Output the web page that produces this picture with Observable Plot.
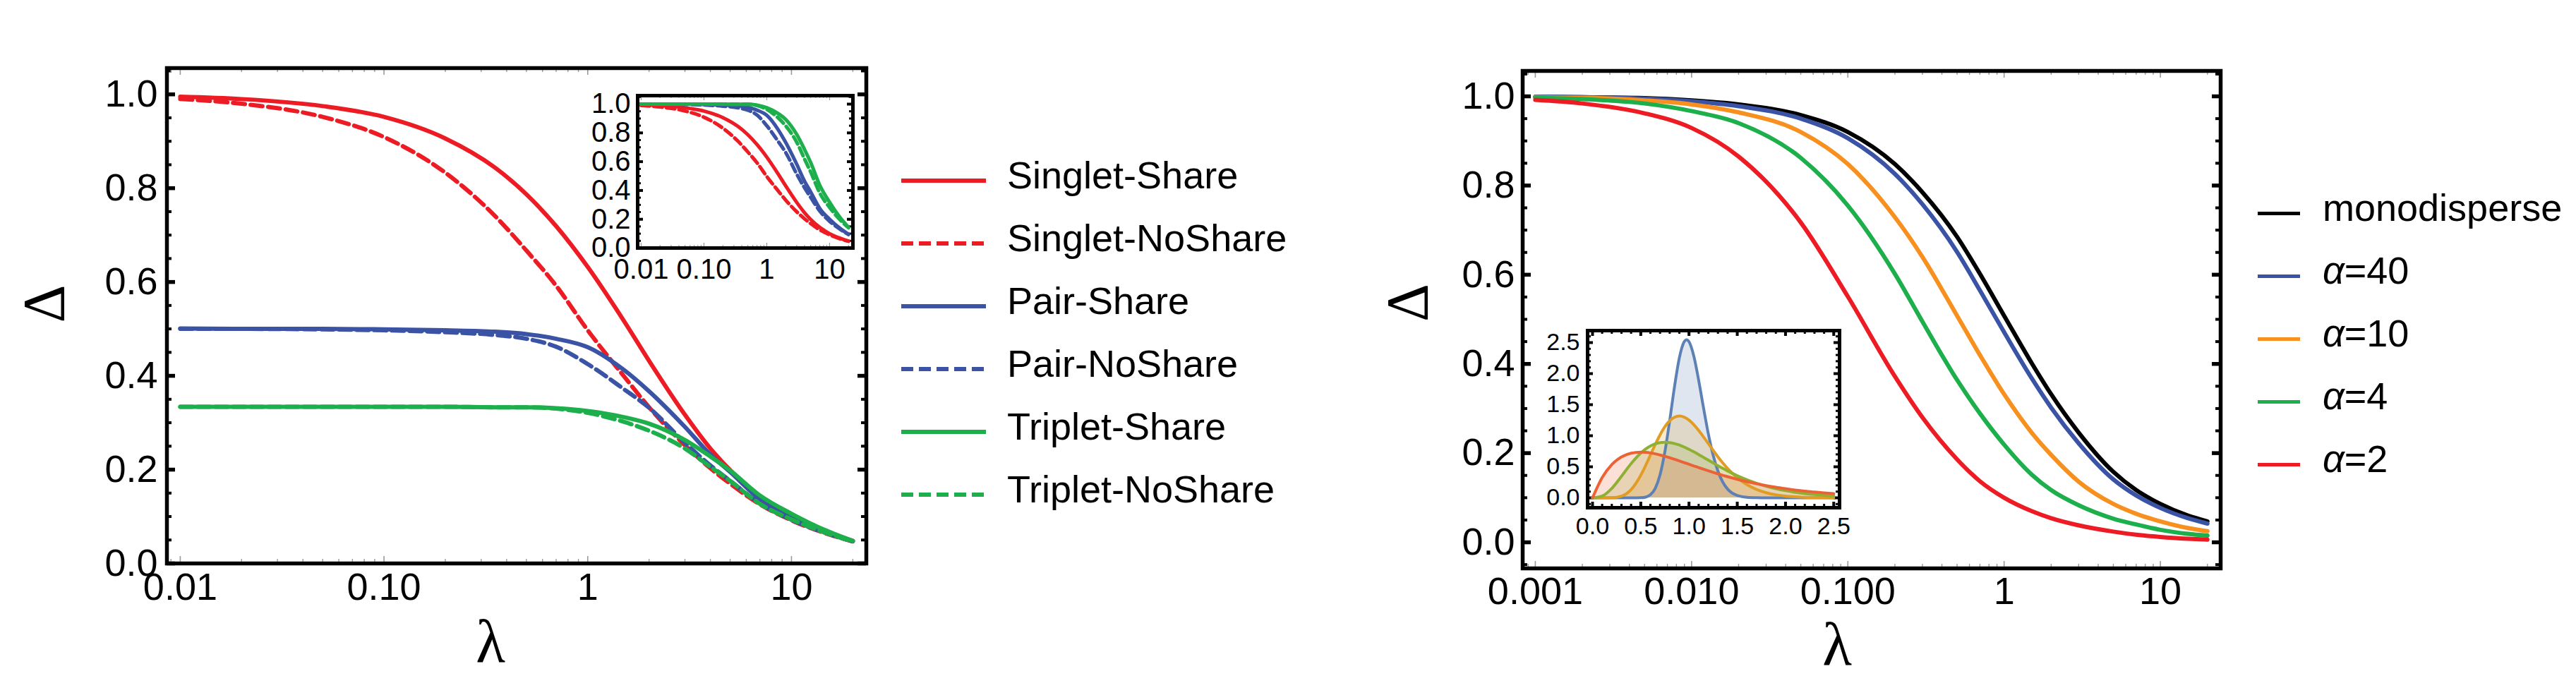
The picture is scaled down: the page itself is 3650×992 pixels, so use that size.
<!DOCTYPE html>
<html>
<head>
<meta charset="utf-8">
<script src="https://cdn.jsdelivr.net/npm/d3@7"></script>
<script src="https://cdn.jsdelivr.net/npm/@observablehq/plot@0.6"></script>
<style>
  html, body { margin: 0; padding: 0; background: #fff; }
  #root { position: relative; width: 3650px; height: 992px; overflow: hidden; background: #fff;
          font-family: "Liberation Sans", Arial, sans-serif; }
  .panel { position: absolute; }
  .panel svg { max-width: none; display: block; }
  .legend { position: absolute; font-size: 54px; color: #000; }
  .legend .row { position: absolute; left: 0; height: 88px; display: flex; align-items: center; white-space: nowrap; }
  .legend .txt { position: relative; top: -8px; line-height: 1; }
</style>
</head>
<body>
<div id="root"></div>
<script>
// ---------------- DATA ----------------
// Left panel: Delta vs lambda
const lambdaA = [0.01, 0.02, 0.05, 0.1, 0.2, 0.35, 0.5, 0.7, 1, 1.5, 2, 3, 4, 5, 7, 10, 15, 20];
const singletShare   = [0.995, 0.990, 0.975, 0.952, 0.906, 0.844, 0.787, 0.719, 0.632, 0.518, 0.432, 0.317, 0.245, 0.199, 0.143, 0.100, 0.067, 0.048];
const singletNoShare = [0.990, 0.980, 0.952, 0.909, 0.833, 0.741, 0.667, 0.592, 0.497, 0.400, 0.333, 0.252, 0.203, 0.170, 0.126, 0.092, 0.063, 0.047];
const pairShare      = [0.501, 0.500, 0.500, 0.499, 0.497, 0.494, 0.489, 0.479, 0.461, 0.413, 0.367, 0.291, 0.232, 0.195, 0.137, 0.100, 0.067, 0.048];
const pairNoShare    = [0.500, 0.500, 0.499, 0.497, 0.493, 0.487, 0.479, 0.462, 0.425, 0.372, 0.332, 0.257, 0.209, 0.176, 0.128, 0.093, 0.064, 0.047];
const tripletShare   = [0.334, 0.334, 0.334, 0.334, 0.334, 0.333, 0.333, 0.331, 0.325, 0.312, 0.298, 0.263, 0.228, 0.198, 0.145, 0.106, 0.069, 0.048];
const tripletNoShare = [0.334, 0.334, 0.334, 0.334, 0.334, 0.333, 0.333, 0.330, 0.321, 0.302, 0.283, 0.245, 0.206, 0.176, 0.127, 0.094, 0.064, 0.047];

// Left inset: normalised curves
const insetSingletShare   = [0.995, 0.990, 0.975, 0.952, 0.906, 0.844, 0.787, 0.719, 0.632, 0.518, 0.432, 0.317, 0.245, 0.199, 0.143, 0.100, 0.067, 0.048];
const insetSingletNoShare = [0.990, 0.980, 0.952, 0.909, 0.833, 0.741, 0.667, 0.592, 0.497, 0.400, 0.333, 0.252, 0.203, 0.170, 0.126, 0.092, 0.063, 0.047];
const insetPairShare      = [1.000, 1.000, 1.000, 0.998, 0.994, 0.988, 0.978, 0.958, 0.922, 0.826, 0.734, 0.582, 0.464, 0.390, 0.274, 0.200, 0.134, 0.096];
const insetPairNoShare    = [1.000, 1.000, 0.998, 0.994, 0.986, 0.974, 0.958, 0.924, 0.850, 0.744, 0.664, 0.514, 0.418, 0.352, 0.256, 0.186, 0.128, 0.094];
const insetTripletShare   = [1.000, 1.000, 1.000, 1.000, 1.000, 0.999, 0.999, 0.993, 0.975, 0.936, 0.894, 0.789, 0.684, 0.594, 0.435, 0.318, 0.207, 0.144];
const insetTripletNoShare = [1.000, 1.000, 1.000, 1.000, 1.000, 0.999, 0.999, 0.990, 0.963, 0.906, 0.849, 0.735, 0.618, 0.528, 0.381, 0.282, 0.192, 0.141];

// Right panel: Delta vs lambda for size distributions
const lambdaB = [0.001, 0.002, 0.005, 0.01, 0.02, 0.05, 0.1, 0.2, 0.3, 0.5, 0.7, 1, 1.5, 2, 3, 5, 7, 10, 15, 20];
const monodisperse = [0.999, 0.998, 0.996, 0.991, 0.982, 0.958, 0.920, 0.848, 0.785, 0.685, 0.602, 0.508, 0.402, 0.332, 0.246, 0.158, 0.117, 0.086, 0.060, 0.047];
const alpha40      = [0.999, 0.998, 0.995, 0.989, 0.978, 0.950, 0.906, 0.826, 0.758, 0.651, 0.565, 0.471, 0.368, 0.302, 0.222, 0.141, 0.105, 0.077, 0.054, 0.042];
const alpha10      = [0.998, 0.997, 0.991, 0.982, 0.964, 0.920, 0.848, 0.729, 0.640, 0.508, 0.420, 0.332, 0.246, 0.196, 0.136, 0.086, 0.064, 0.047, 0.032, 0.025];
const alpha4       = [0.997, 0.994, 0.984, 0.967, 0.940, 0.862, 0.755, 0.602, 0.495, 0.364, 0.289, 0.219, 0.152, 0.117, 0.083, 0.053, 0.040, 0.028, 0.019, 0.015];
const alpha2       = [0.992, 0.984, 0.962, 0.929, 0.865, 0.717, 0.551, 0.372, 0.280, 0.186, 0.137, 0.100, 0.070, 0.054, 0.038, 0.024, 0.017, 0.012, 0.008, 0.006];

// Right inset: size distributions
const distX   = [0, 0.1, 0.2, 0.3, 0.4, 0.5, 0.55, 0.6, 0.65, 0.7, 0.75, 0.8, 0.85, 0.9, 0.95, 0.975, 1.0, 1.05, 1.1, 1.15, 1.2, 1.25, 1.3, 1.35, 1.4, 1.5, 1.6, 1.7, 1.8, 1.9, 2.0, 2.1, 2.2, 2.3, 2.4, 2.5];
const distA40 = [0, 0, 0, 0, 0, 0.002, 0.012, 0.050, 0.153, 0.372, 0.742, 1.245, 1.793, 2.254, 2.513, 2.546, 2.514, 2.281, 1.894, 1.452, 1.033, 0.687, 0.429, 0.253, 0.141, 0.038, 0.009, 0.002, 0, 0, 0, 0, 0, 0, 0, 0];
const distA10 = [0, 0, 0.002, 0.027, 0.132, 0.363, 0.519, 0.689, 0.858, 1.014, 1.145, 1.241, 1.298, 1.318, 1.300, 1.279, 1.251, 1.177, 1.085, 0.982, 0.874, 0.765, 0.660, 0.563, 0.473, 0.324, 0.213, 0.135, 0.083, 0.050, 0.029, 0.017, 0.009, 0.005, 0.003, 0.002];
const distA4  = [0, 0.029, 0.153, 0.347, 0.551, 0.722, 0.786, 0.836, 0.871, 0.890, 0.896, 0.890, 0.874, 0.850, 0.818, 0.800, 0.781, 0.741, 0.697, 0.652, 0.607, 0.562, 0.517, 0.474, 0.433, 0.357, 0.290, 0.234, 0.186, 0.147, 0.115, 0.089, 0.069, 0.053, 0.040, 0.030];
const distA2  = [0, 0.327, 0.536, 0.659, 0.719, 0.736, 0.732, 0.723, 0.709, 0.690, 0.669, 0.646, 0.621, 0.595, 0.568, 0.555, 0.541, 0.514, 0.488, 0.461, 0.435, 0.410, 0.386, 0.363, 0.341, 0.299, 0.261, 0.227, 0.197, 0.170, 0.147, 0.126, 0.108, 0.093, 0.079, 0.067];

// Tick values and labels
const xTicksA = [0.01, 0.1, 1, 10];
const xTickLabelsA = ["0.01", "0.10", "1", "10"];
const xTicksB = [0.001, 0.01, 0.1, 1, 10];
const xTickLabelsB = ["0.001", "0.010", "0.100", "1", "10"];
const yTicksMain = [0, 0.2, 0.4, 0.6, 0.8, 1.0];
const yTickLabelsMain = ["0.0", "0.2", "0.4", "0.6", "0.8", "1.0"];
const distTicks = [0, 0.5, 1, 1.5, 2, 2.5];
const distTickLabels = ["0.0", "0.5", "1.0", "1.5", "2.0", "2.5"];

const legendA = ["Singlet-Share", "Singlet-NoShare", "Pair-Share", "Pair-NoShare", "Triplet-Share", "Triplet-NoShare"];
const legendB = ["monodisperse", "α=40", "α=10", "α=4", "α=2"];
const xLabel = "λ";
const yLabel = "Δ";

// ---------------- STYLE ----------------
const RED = "#ED1C24", BLUE = "#3A53A4", GREEN = "#1DAF4B", ORANGE = "#F7901E", BLACK = "#000000";
const D_BLUE = "#5E81B5", D_ORANGE = "#E19C24", D_GREEN = "#8FB032", D_RED = "#EB6235";
const SANS = '"Liberation Sans", Arial, sans-serif';
const SERIF = '"Liberation Serif", "DejaVu Serif", serif';

// ---------------- HELPERS ----------------
const pts = (xs, ys) => xs.map((x, i) => ({x, y: ys[i]}));
const labelFmt = (vals, labs) => { const m = new Map(vals.map((v, i) => [v, labs[i]])); return d => m.get(d); };
function logMinor(lo, hi, domain) {
  const out = [];
  for (let e = lo; e <= hi; e++) for (let m = 2; m <= 9; m++) out.push(+(m * Math.pow(10, e)).toPrecision(6));
  return out.filter(v => v >= domain[0] && v <= domain[1]);
}
function steps(a, b, s) { const out = []; for (let k = Math.round(a / s); k * s <= b + 1e-9; k++) out.push(+(k * s).toFixed(6)); return out; }

function line(xs, ys, color, w, dash) {
  return Plot.line(pts(xs, ys), {x: "x", y: "y", stroke: color, strokeWidth: w,
    strokeDasharray: dash || undefined, curve: "monotone-x", strokeLinejoin: "round"});
}

function panel(c) {
  const fw = c.width - c.ml - c.mr, fh = c.height - c.mt - c.mb;
  const t = c.tick;
  const marks = [
    Plot.frame({fill: "white", stroke: null}),
    // y ticks: left and right, pointing inward
    Plot.tickY(c.yMinor, {y: d => d, insetRight: fw - t.yMinLen, stroke: "black", strokeWidth: t.yMinW}),
    Plot.tickY(c.yMinor, {y: d => d, insetLeft: fw - t.yMinLen, stroke: "black", strokeWidth: t.yMinW}),
    Plot.tickY(c.yMajor, {y: d => d, insetRight: fw - t.yMajLen, stroke: "black", strokeWidth: t.yMajW}),
    Plot.tickY(c.yMajor, {y: d => d, insetLeft: fw - t.yMajLen, stroke: "black", strokeWidth: t.yMajW}),
    // x ticks: bottom and top, pointing inward
    Plot.tickX(c.xMinor, {x: d => d, insetTop: fh - t.xMinLen, stroke: t.xColor, strokeWidth: t.xMinW}),
    Plot.tickX(c.xMinor, {x: d => d, insetBottom: fh - t.xMinLen, stroke: t.xColor, strokeWidth: t.xMinW}),
    Plot.tickX(c.xMajor, {x: d => d, insetTop: fh - t.xMajLen, stroke: t.xColor, strokeWidth: t.xMajW}),
    Plot.tickX(c.xMajor, {x: d => d, insetBottom: fh - t.xMajLen, stroke: t.xColor, strokeWidth: t.xMajW}),
    ...c.marks,
    Plot.frame({stroke: "black", strokeWidth: t.frameW}),
    Plot.axisX(c.xMajor, {tickSize: 0, tickPadding: c.padX, fontSize: c.font, tickFormat: c.xFmt, label: null}),
    Plot.axisY(c.yMajor, {tickSize: 0, tickPadding: c.padY, fontSize: c.font, tickFormat: c.yFmt, label: null}),
    ...(c.extra || [])
  ];
  const svg = Plot.plot({
    width: c.width, height: c.height,
    marginLeft: c.ml, marginRight: c.mr, marginTop: c.mt, marginBottom: c.mb,
    x: {...c.x, label: null}, y: {...c.y, label: null},
    style: {fontFamily: SANS, background: "transparent", color: "black", maxWidth: "none", overflow: "visible"},
    marks
  });
  const div = document.createElement("div");
  div.className = "panel";
  div.style.left = c.left + "px"; div.style.top = c.top + "px";
  div.style.width = c.width + "px"; div.style.height = c.height + "px";
  div.appendChild(svg);
  document.getElementById("root").appendChild(div);
}

function axisTitles(dxL, dyL, dxD, dyD) {
  return [
    Plot.text([xLabel], {text: d => d, frameAnchor: "bottom", dx: dxL, dy: dyL, fontSize: 86, fontFamily: SERIF, lineAnchor: "middle", fill: "black"}),
    Plot.text([yLabel], {text: d => d, frameAnchor: "left", dx: dxD, dy: dyD, fontSize: 84, fontFamily: SERIF, rotate: -90, lineAnchor: "middle", fill: "black"})
  ];
}

const mainTick = {frameW: 5.5, yMajLen: 12, yMajW: 5.5, yMinLen: 7, yMinW: 4, xMajLen: 10, xMajW: 1.6, xMinLen: 6, xMinW: 1.4, xColor: "#9a9a9a"};

// ---------------- LEFT MAIN ----------------
const xDomA = [0.0086, 23.3];
panel({
  left: 0, top: 0, width: 1240, height: 992, ml: 236, mr: 13, mt: 96, mb: 194,
  x: {type: "log", domain: xDomA}, y: {domain: [0, 1.056]},
  xMajor: xTicksA, xMinor: logMinor(-3, 1, xDomA), xFmt: labelFmt(xTicksA, xTickLabelsA),
  yMajor: yTicksMain, yMinor: steps(0, 1.05, 0.05), yFmt: labelFmt(yTicksMain, yTickLabelsMain),
  font: 54, padX: 13, padY: 13, tick: mainTick,
  marks: [
    line(lambdaA, singletShare, RED, 6),
    line(lambdaA, singletNoShare, RED, 6, "17,8"),
    line(lambdaA, pairShare, BLUE, 6),
    line(lambdaA, pairNoShare, BLUE, 6, "17,8"),
    line(lambdaA, tripletShare, GREEN, 6),
    line(lambdaA, tripletNoShare, GREEN, 6, "17,8")
  ],
  extra: axisTitles(-37, 112, -172, 10)
});

// ---------------- LEFT INSET ----------------
const xDomAi = [0.0088, 23.5];
panel({
  left: 790, top: 100, width: 430, height: 320, ml: 113, mr: 12, mt: 35, mb: 69,
  x: {type: "log", domain: xDomAi}, y: {domain: [0, 1.059]},
  xMajor: xTicksA, xMinor: logMinor(-3, 1, xDomAi), xFmt: labelFmt(xTicksA, xTickLabelsA),
  yMajor: yTicksMain, yMinor: steps(0, 1.05, 0.05), yFmt: labelFmt(yTicksMain, yTickLabelsMain),
  font: 40, padX: 15, padY: 10,
  tick: {frameW: 5, yMajLen: 8, yMajW: 4, yMinLen: 5, yMinW: 3, xMajLen: 7, xMajW: 1.3, xMinLen: 4, xMinW: 1.1, xColor: "#9a9a9a"},
  marks: [
    line(lambdaA, insetSingletShare, RED, 5),
    line(lambdaA, insetSingletNoShare, RED, 5, "12,6"),
    line(lambdaA, insetPairShare, BLUE, 5),
    line(lambdaA, insetPairNoShare, BLUE, 5, "12,6"),
    line(lambdaA, insetTripletShare, GREEN, 5),
    line(lambdaA, insetTripletNoShare, GREEN, 5, "12,6")
  ]
});

// ---------------- RIGHT MAIN ----------------
const xDomB = [0.00083, 24.3];
panel({
  left: 1880, top: 0, width: 1300, height: 992, ml: 277, mr: 34, mt: 100, mb: 187,
  x: {type: "log", domain: xDomB}, y: {domain: [-0.0585, 1.057]},
  xMajor: xTicksB, xMinor: logMinor(-4, 1, xDomB), xFmt: labelFmt(xTicksB, xTickLabelsB),
  yMajor: yTicksMain, yMinor: steps(-0.05, 1.05, 0.05), yFmt: labelFmt(yTicksMain, yTickLabelsMain),
  font: 54, padX: 12, padY: 11, tick: mainTick,
  marks: [
    line(lambdaB, monodisperse, BLACK, 6),
    line(lambdaB, alpha40, BLUE, 6),
    line(lambdaB, alpha10, ORANGE, 6),
    line(lambdaB, alpha4, GREEN, 6),
    line(lambdaB, alpha2, RED, 6)
  ],
  extra: axisTitles(-49, 109, -161, 3)
});

// ---------------- RIGHT INSET ----------------
const distSeries = [[distA40, D_BLUE], [distA10, D_ORANGE], [distA4, D_GREEN], [distA2, D_RED]];
panel({
  left: 2140, top: 440, width: 480, height: 340, ml: 109, mr: 14, mt: 28, mb: 61,
  x: {domain: [-0.051, 2.56]}, y: {domain: [-0.159, 2.693]},
  xMajor: distTicks, xMinor: steps(0, 2.5, 0.1), xFmt: labelFmt(distTicks, distTickLabels),
  yMajor: distTicks, yMinor: steps(-0.1, 2.6, 0.1), yFmt: labelFmt(distTicks, distTickLabels),
  font: 34, padX: 13, padY: 11,
  tick: {frameW: 5, yMajLen: 8, yMajW: 4, yMinLen: 5, yMinW: 3, xMajLen: 8, xMajW: 4, xMinLen: 5, xMinW: 3, xColor: "black"},
  marks: [
    ...distSeries.map(([ys, col]) => Plot.areaY(pts(distX, ys), {x: "x", y: "y", fill: col, fillOpacity: 0.2, curve: "monotone-x"})),
    ...distSeries.map(([ys, col]) => line(distX, ys, col, 4))
  ]
});

// ---------------- LEGENDS ----------------
function legend(left, top, spacing, items, sampleW, gap) {
  const box = document.createElement("div");
  box.className = "legend";
  box.style.left = left + "px"; box.style.top = top + "px";
  items.forEach((it, i) => {
    const row = document.createElement("div");
    row.className = "row";
    row.style.top = (i * spacing - 44) + "px";
    const sw = document.createElement("span");
    sw.style.display = "inline-block";
    sw.style.width = sampleW + "px";
    sw.style.height = it.w + "px";
    sw.style.background = it.dash
      ? `repeating-linear-gradient(to right, ${it.color} 0px, ${it.color} 17px, transparent 17px, transparent 25px)`
      : it.color;
    const tx = document.createElement("span");
    tx.className = "txt";
    tx.style.marginLeft = gap + "px";
    if (it.label.startsWith("α")) {
      const g = document.createElement("i"); g.textContent = "α";
      tx.appendChild(g);
      tx.appendChild(document.createTextNode(it.label.slice(1)));
    } else {
      tx.textContent = it.label;
    }
    row.appendChild(sw); row.appendChild(tx);
    box.appendChild(row);
  });
  document.getElementById("root").appendChild(box);
}

legend(1277, 256, 89, [
  {label: legendA[0], color: RED, dash: false, w: 6},
  {label: legendA[1], color: RED, dash: true, w: 6},
  {label: legendA[2], color: BLUE, dash: false, w: 6},
  {label: legendA[3], color: BLUE, dash: true, w: 6},
  {label: legendA[4], color: GREEN, dash: false, w: 6},
  {label: legendA[5], color: GREEN, dash: true, w: 6}
], 120, 30);

legend(3199, 302, 89, [
  {label: legendB[0], color: BLACK, dash: false, w: 5},
  {label: legendB[1], color: BLUE, dash: false, w: 5},
  {label: legendB[2], color: ORANGE, dash: false, w: 5},
  {label: legendB[3], color: GREEN, dash: false, w: 5},
  {label: legendB[4], color: RED, dash: false, w: 5}
], 60, 32);
</script>
</body>
</html>
